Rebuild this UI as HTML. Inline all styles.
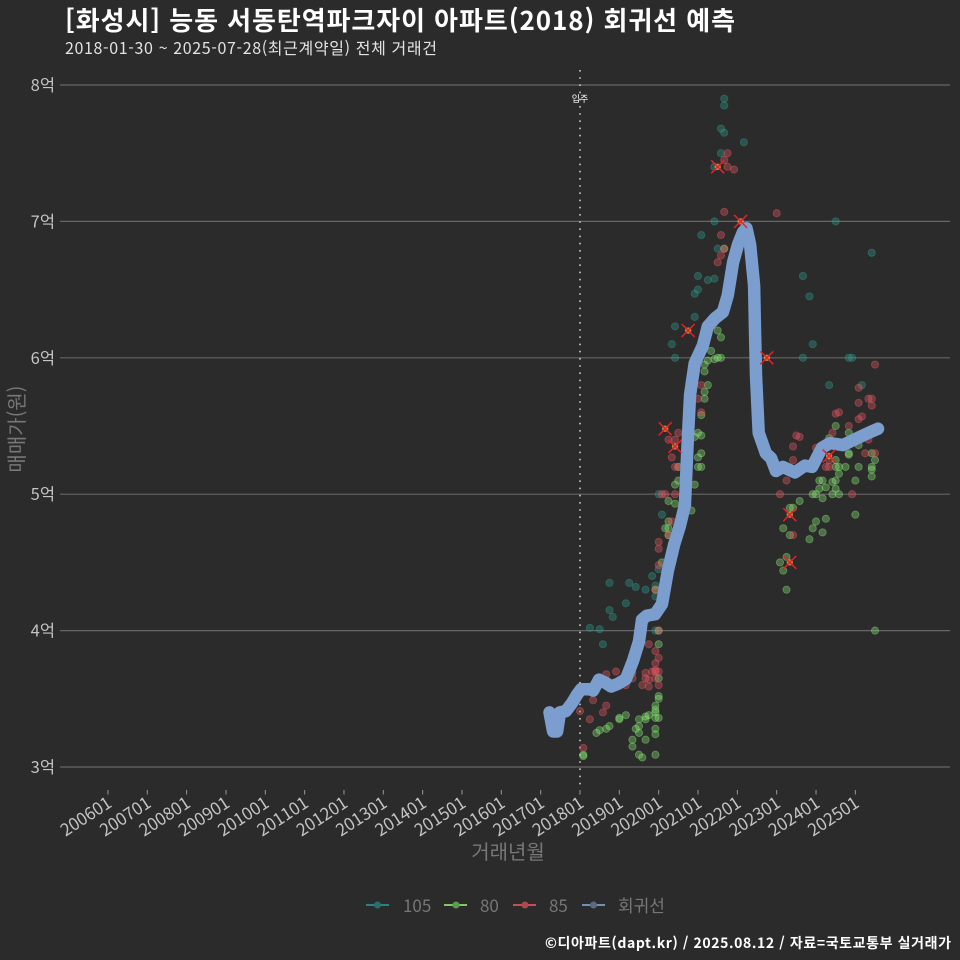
<!DOCTYPE html>
<html lang="ko">
<head>
<meta charset="utf-8">
<title>능동 서동탄역파크자이 회귀선 예측</title>
<style>
html,body{margin:0;padding:0;background:#2b2b2b;}
svg{display:block;font-family:"Noto Sans CJK KR","Liberation Sans",sans-serif;}
</style>
</head>
<body>
<svg id="chart" width="960" height="960" viewBox="0 0 960 960" xmlns="http://www.w3.org/2000/svg">
<rect width="960" height="960" fill="#2b2b2b"/>
<text x="65" y="30" font-size="26" font-weight="700" fill="#ffffff" textLength="670" lengthAdjust="spacing">[화성시] 능동 서동탄역파크자이 아파트(2018) 회귀선 예측</text>
<text x="65" y="54" font-size="16" fill="#e4e4e4" textLength="372" lengthAdjust="spacing">2018-01-30 ~ 2025-07-28(최근계약일) 전체 거래건</text>
<g id="grid"></g>
<g id="xticks"></g>
<line x1="580" x2="580" y1="70" y2="790" stroke="#cccccc" stroke-width="1.6" stroke-dasharray="1.6 5.6"/>
<text x="580" y="102" font-size="9" text-anchor="middle" fill="#ffffff">입주</text>
<g id="marks"></g>
<text transform="translate(24,429) rotate(-90)" font-size="20" text-anchor="middle" fill="#777777">매매가(원)</text>
<text x="508" y="859" font-size="20" text-anchor="middle" fill="#777777">거래년월</text>
<g>
<g>
<line x1="366" x2="389" y1="905" y2="905" stroke="#2a8f94" stroke-width="1.8"/><circle cx="377.5" cy="905" r="3.5" fill="#2a6d6c"/>
<text x="403" y="912" font-size="17" fill="#777777">105</text></g>
<g>
<line x1="444" x2="467" y1="905" y2="905" stroke="#86e070" stroke-width="1.8"/><circle cx="456" cy="905" r="3.5" fill="#5c9a50"/>
<text x="480" y="912" font-size="17" fill="#777777">80</text></g>
<g>
<line x1="513" x2="536" y1="905" y2="905" stroke="#e0525c" stroke-width="1.8"/><circle cx="525" cy="905" r="3.5" fill="#a84a50"/>
<text x="549" y="912" font-size="17" fill="#777777">85</text></g>
<g>
<line x1="582" x2="605" y1="905" y2="905" stroke="#7b9fd1" stroke-width="1.8"/><circle cx="593.5" cy="905" r="3.5" fill="#5c6a80"/>
<text x="618" y="912" font-size="17" fill="#777777">회귀선</text></g>
</g>
<text x="951" y="948" font-size="14" font-weight="700" text-anchor="end" fill="#ffffff" textLength="406" lengthAdjust="spacing">©디아파트(dapt.kr) / 2025.08.12 / 자료=국토교통부 실거래가</text>
</svg>
<script>
// x values: months since 2018-01; y values: price in 억
const yTicks = [3, 4, 5, 6, 7, 8];
const xTickLabels = ["200601","200701","200801","200901","201001","201101","201201","201301","201401","201501","201601","201701","201801","201901","202001","202101","202201","202301","202401","202501"];
const points105 = [[9,4.35],[15,4.35],[17,4.32],[20,4.30],[14,4.20],[9,4.15],[10,4.10],[3,4.02],[6,4.01],[7,3.90],[22,4.40],[23,4.33],[23,4.25],[24,4.45],[25,4.85],[24,5.0],[23,4.0],[29,6.23],[28,6.10],[29,6.0],[71,6.10],[68,6.0],[82,6.0],[83,6.0],[76,5.80],[86,5.80],[44,7.90],[44,7.85],[43,7.68],[44,7.65],[50,7.58],[43,7.50],[41,7.40],[41,7.0],[78,7.0],[37,6.90],[42,6.80],[89,6.77],[36,6.60],[39,6.57],[41,6.58],[68,6.60],[36,6.50],[35,6.47],[70,6.45],[35,6.30]];
const points80 = [[29,5.07],[35,5.07],[27,4.95],[29,4.93],[34,4.88],[27,4.80],[26,4.75],[27,4.75],[27,4.70],[25,4.50],[23,4.30],[24,3.90],[24,3.52],[24,3.50],[23,3.45],[23,3.42],[23,3.40],[23,3.36],[24,3.36],[21,3.38],[20,3.37],[20,3.35],[18,3.35],[18,3.30],[17,3.28],[18,3.25],[23,3.28],[23,3.24],[20,3.20],[16,3.20],[16,3.15],[18,3.09],[19,3.07],[23,3.09],[12,3.36],[12,3.35],[14,3.38],[9,3.30],[8,3.28],[6,3.27],[5,3.25],[1,3.09],[1,3.08],[24,3.65],[24,4.0],[42,6.20],[43,6.15],[40,6.05],[39,5.98],[41,5.99],[42,6.0],[43,6.0],[38,5.95],[38,5.90],[39,5.80],[38,5.75],[38,5.70],[37,5.58],[36,5.45],[37,5.43],[35,5.42],[37,5.30],[36,5.27],[36,5.20],[37,5.20],[30,5.10],[78,5.50],[82,5.45],[76,5.41],[85,5.36],[82,5.30],[82,5.29],[89,5.30],[90,5.25],[89,5.20],[89,5.18],[89,5.13],[85,5.20],[81,5.20],[79,5.20],[78,5.25],[78,5.20],[79,5.15],[84,5.10],[78,5.10],[77,5.09],[73,5.10],[74,5.10],[75,5.05],[73,5.04],[78,5.04],[77,5.0],[79,5.0],[72,5.0],[71,5.0],[74,4.97],[67,4.95],[84,4.85],[64,4.90],[65,4.90],[75,4.82],[72,4.80],[71,4.75],[74,4.72],[62,4.75],[64,4.70],[70,4.67],[90,4.0],[63,4.54],[61,4.50],[62,4.44],[63,4.30],[44,6.80],[30,5.20]];
const points85 = [[45,7.50],[44,7.45],[45,7.40],[47,7.38],[44,7.07],[60,7.06],[43,6.90],[44,6.80],[43,6.75],[42,6.70],[27,5.40],[29,5.40],[30,5.45],[28,5.27],[29,5.20],[30,5.20],[37,5.80],[37,5.60],[36,5.70],[25,5.0],[26,5.0],[29,5.0],[24,4.65],[24,4.60],[28,4.80],[27,4.70],[90,5.95],[85,5.78],[85,5.67],[88,5.70],[89,5.70],[89,5.65],[78,5.59],[79,5.60],[85,5.55],[86,5.57],[82,5.50],[77,5.45],[66,5.43],[67,5.42],[65,5.35],[72,5.34],[88,5.40],[87,5.30],[90,5.30],[65,5.25],[76,5.25],[75,5.20],[76,5.20],[63,5.10],[61,5.0],[83,5.0],[65,4.70],[24,4.48],[23,4.30],[24,4.0],[21,3.90],[23,3.85],[24,3.80],[23,3.76],[23,3.70],[23,3.71],[24,3.70],[22,3.70],[20,3.69],[20,3.65],[21,3.64],[23,3.65],[19,3.60],[21,3.59],[24,3.60],[8,3.68],[11,3.70],[16,3.69],[16,3.65],[14,3.60],[4,3.49],[8,3.45],[7,3.40],[3,3.35],[0,3.41],[1,3.14]];
const highlightPoints = [[42,7.40],[49,7.0],[33,6.20],[57,6.0],[26,5.48],[29,5.35],[64,4.85],[76,5.28],[64,4.50]];
const regressionLine = [[-9.3,3.40],[-8.2,3.26],[-7,3.26],[-6.1,3.40],[-4.3,3.41],[-2.4,3.47],[-0.9,3.53],[0.3,3.57],[3,3.57],[4,3.56],[5.8,3.64],[7.6,3.62],[9.5,3.59],[11.6,3.61],[14,3.645],[16.2,3.78],[18,3.92],[18.9,4.08],[20.4,4.11],[22.9,4.12],[25,4.195],[26.8,4.44],[28.7,4.63],[30.5,4.77],[32,4.92],[32.9,5.40],[33.6,5.73],[35,5.96],[37.5,6.09],[39,6.23],[41.2,6.29],[43.6,6.335],[45.1,6.46],[46.7,6.70],[48.2,6.83],[49.7,6.92],[50.8,6.95],[51.9,6.83],[53.1,6.53],[53.4,6.20],[53.7,5.87],[54.5,5.45],[56.7,5.30],[58.3,5.265],[59.8,5.17],[61.9,5.20],[65.6,5.16],[68.6,5.21],[70.8,5.20],[73.8,5.34],[76.3,5.375],[80.2,5.36],[84.5,5.41],[88.5,5.455],[90.9,5.48]];

const NS = "http://www.w3.org/2000/svg";
function xScale(m) { return 580 + m * 3.278; }
function yScale(p) { return 767 - (p - 3) * 136.4; }
function make(tag, attrs, parent) {
  const el = document.createElementNS(NS, tag);
  for (const k in attrs) el.setAttribute(k, attrs[k]);
  parent.appendChild(el);
  return el;
}
const grid = document.getElementById("grid");
const xticks = document.getElementById("xticks");
const marks = document.getElementById("marks");

yTicks.forEach(function (v) {
  const y = yScale(v);
  const line = make("line", {x1: 60, x2: 950, y1: y, y2: y, stroke: "#666666", "stroke-width": 1.2}, grid);
  
  
  const label = make("text", {x: 55, y: y + 6, "font-size": 16.5, "text-anchor": "end", fill: "#c4c4c4"}, grid);
  
  
  label.textContent = v + "억";
});

xTickLabels.forEach(function (t) {
  const m = (parseInt(t.slice(0, 4), 10) - 2018) * 12 + parseInt(t.slice(4), 10) - 1;
  const x = xScale(m);
  const tick = make("line", {x1: x, x2: x, y1: 790, y2: 794.5, stroke: "#999999", "stroke-width": 1}, xticks);
  
  
  const label = make("text", {transform: "translate(" + (x + 5) + ",806) rotate(-33)", "font-size": 17, "text-anchor": "end", fill: "#c4c4c4"}, xticks);
  
  
  label.textContent = t;
});

function drawPoints(points, color, name) {
  points.forEach(function (pt) {
    const c = make("circle", {cx: xScale(pt[0]), cy: yScale(pt[1]), r: 3.6, fill: color, "fill-opacity": 0.36, stroke: color, "stroke-opacity": 0.42, "stroke-width": 0.9}, marks);
    
    
  });
}
drawPoints(points105, "#2f9a8e", "point-105");
drawPoints(points80, "#8ae876", "point-80");
drawPoints(points85, "#e85a64", "point-85");

const linePath = make("path", {
  d: regressionLine.map(function (p, i) { return (i ? "L" : "M") + xScale(p[0]).toFixed(1) + " " + yScale(p[1]).toFixed(1); }).join(""),
  fill: "none", stroke: "#7b9ecf", "stroke-width": 12.5, "stroke-linecap": "round", "stroke-linejoin": "round"
}, marks);



highlightPoints.forEach(function (pt) {
  const x = xScale(pt[0]);
  const y = yScale(pt[1]);
  const g = make("g", {}, marks);
  
  
  make("circle", {cx: x, cy: y, r: 3.2, fill: "#e8b04a", "fill-opacity": 0.7}, g);
  make("path", {d: "M" + (x - 6.5) + " " + (y - 6.5) + "L" + (x + 6.5) + " " + (y + 6.5) + "M" + (x - 6.5) + " " + (y + 6.5) + "L" + (x + 6.5) + " " + (y - 6.5), stroke: "#e8202a", "stroke-width": 1.5, fill: "none"}, g);
});
</script>
</body>
</html>
